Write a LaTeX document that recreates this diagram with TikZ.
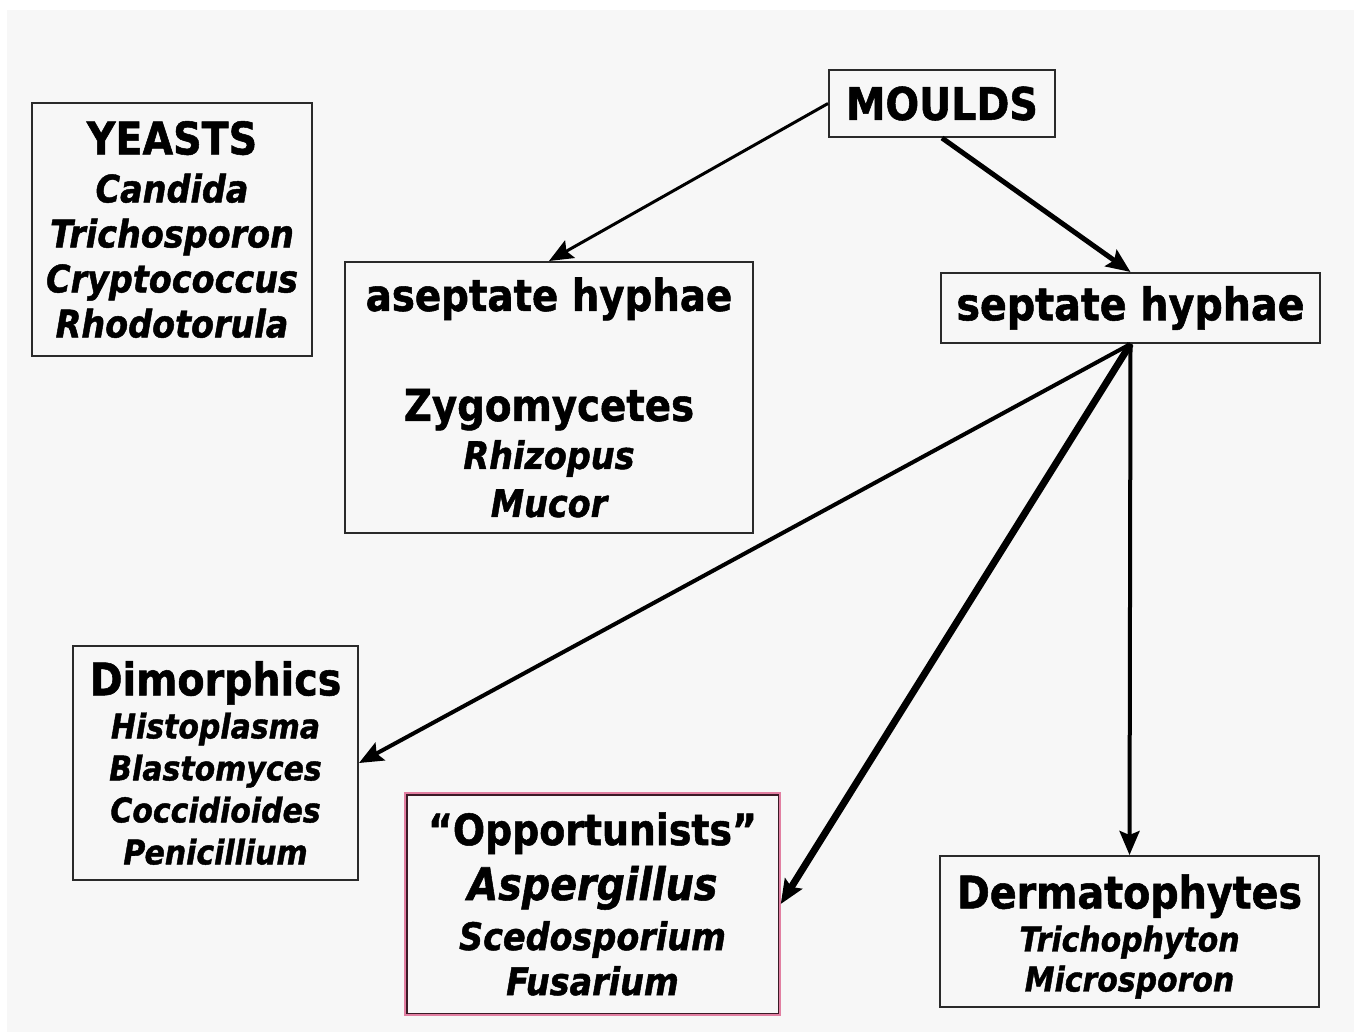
\documentclass[tikz,border=0pt]{standalone}
\usepackage{fontspec}
\setmainfont{DejaVu Sans}[FakeStretch=0.88,BoldFeatures={FakeBold=1.2},BoldItalicFeatures={FakeBold=1.2}]
\usetikzlibrary{arrows.meta}
\definecolor{bg}{HTML}{F7F7F7}
\definecolor{bx}{HTML}{2A2A2A}
\definecolor{pinkb}{HTML}{E27FA2}
\definecolor{innerb}{HTML}{3A1A26}
\newcommand{\fsz}[2]{\fontsize{#1}{#2}\selectfont}
\newcommand{\il}[3]{\fontsize{#1}{#2}\selectfont\itshape #3}
\begin{document}
\begin{tikzpicture}[x=1pt,y=-1pt,
  box/.style={draw=bx,line width=2pt,inner sep=0pt,align=center},
  arr/.style={-{Stealth[length=24pt,width=20pt,inset=4pt]},line width=#1,draw=black},
]
\useasboundingbox (0,0) rectangle (1354,1032);
\fill[bg] (7,10) rectangle (1354,1032);

\node[box,font=\bfseries\fsz{45}{45},minimum width=280pt,minimum height=253pt] (yeasts) at (172,229.5)
  {YEASTS\\[3pt]\il{38}{45}{Candida}\\\il{38}{45}{Trichosporon}\\\il{38}{45}{Cryptococcus}\\\il{38}{45}{Rhodotorula}};

\node[box,font=\bfseries\fsz{45}{45},minimum width=226pt,minimum height=67pt] (moulds) at (942,103.5)
  {MOULDS};

\node[box,font=\bfseries\fsz{44}{48},minimum width=408pt,minimum height=271pt] (asep) at (549,397.5)
  {aseptate hyphae\\[62pt]Zygomycetes\\\il{38}{48}{Rhizopus}\\\il{38}{48}{Mucor}};

\node[box,font=\bfseries\fsz{45}{45},minimum width=379pt,minimum height=70pt] (sept) at (1130.5,308)
  {septate hyphae};

\node[box,font=\bfseries\fsz{45}{42},minimum width=285pt,minimum height=234pt] (dimo) at (215.5,763)
  {Dimorphics\\[1pt]\il{34}{42}{Histoplasma}\\\il{34}{42}{Blastomyces}\\\il{34}{42}{Coccidioides}\\\il{34}{42}{Penicillium}};

\node[box,font=\bfseries\fsz{43}{45},draw=pinkb,line width=1.5pt,minimum width=375pt,minimum height=222pt] (opp) at (592.5,904)
  {“Opportunists”\\[10pt]\il{45}{45}{Aspergillus}\\[5pt]\il{38}{45}{Scedosporium}\\\il{38}{45}{Fusarium}};
\draw[innerb,line width=1.5pt] ([xshift=2.5pt,yshift=-2.5pt]opp.north west) rectangle ([xshift=-2.5pt,yshift=2.5pt]opp.south east);

\node[box,font=\bfseries\fsz{45}{40},minimum width=379pt,minimum height=151pt] (derm) at (1129.5,931.5)
  {\rule{0pt}{44pt}Dermatophytes\\[3pt]\il{34}{40}{Trichophyton}\\\il{34}{40}{Microsporon}};

\draw[arr=3pt] (moulds.west) -- (asep.north);
\draw[arr=5pt] (moulds.south) -- (sept.north);
\draw[arr=4pt] (sept.south) -- (dimo.east);
\draw[arr=7pt] (sept.south) -- (opp.east);
\draw[arr=4pt] (sept.south) -- (derm.north);
\end{tikzpicture}
\end{document}
